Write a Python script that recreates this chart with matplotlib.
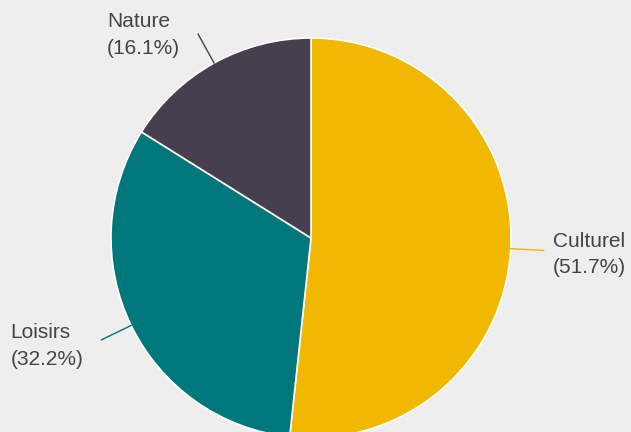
import numpy as np
import matplotlib
matplotlib.use("Agg")
from matplotlib import pyplot as plt

labels = ["Culturel", "Loisirs", "Nature"]
shares = [51.7, 32.2, 16.1]
colors = ["#f0b800", "#00777a", "#463f4e"]

W, H = 631, 432
fig = plt.figure(figsize=(W / 100, H / 100), dpi=100)
fig.patch.set_facecolor("#eeeeee")
ax = fig.add_axes([0, 0, 1, 1])
ax.set_facecolor("#eeeeee")

cx, cy, r = 311, H - 238, 200
wedges, _ = ax.pie(shares, colors=colors, startangle=90, counterclock=False,
                   center=(cx, cy), radius=r, frame=True,
                   wedgeprops=dict(edgecolor="white", linewidth=1.2))
ax.set_xlim(0, W)
ax.set_ylim(0, H)
ax.set_aspect("equal")
ax.axis("off")

# label placement relative to the outer end of each leader line (pixels)
text_offsets = [(9, -4), (-18, -6), (-18, -1)]

for w, lab, val, col, off in zip(wedges, labels, shares, colors, text_offsets):
    ang = np.deg2rad((w.theta1 + w.theta2) / 2)
    x0, y0 = cx + r * np.cos(ang), cy + r * np.sin(ang)
    x1, y1 = cx + (r + 33) * np.cos(ang), cy + (r + 33) * np.sin(ang)
    ax.plot([x0, x1], [y0, y1], color=col, lw=1)
    ha = "left" if np.cos(ang) > 0 else "right"
    ax.text(x1 + off[0], y1 + off[1], f"{lab}\n({val}%)", ha=ha, multialignment="left",
            va="center", fontsize=15, color="#444444", family="Liberation Sans",
            linespacing=1.5)

fig.savefig("out.png", dpi=100, facecolor=fig.get_facecolor())
